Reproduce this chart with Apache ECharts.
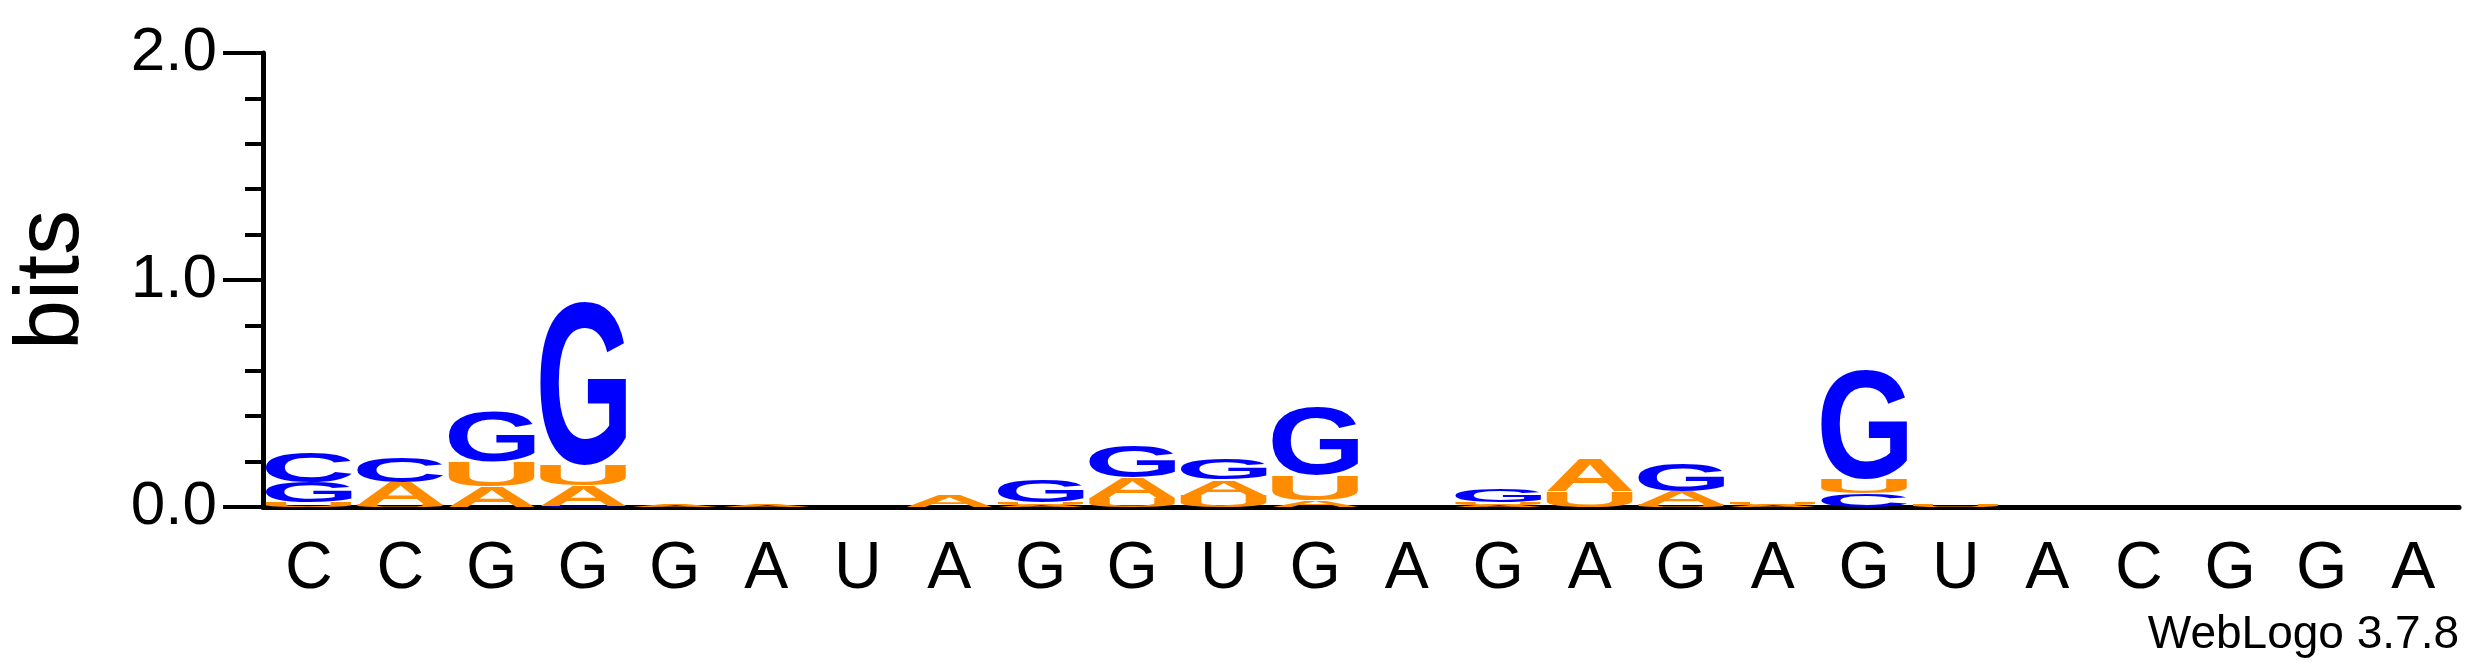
<!DOCTYPE html>
<html>
<head>
<meta charset="utf-8">
<script src="https://cdn.jsdelivr.net/npm/echarts@6/dist/echarts.min.js"></script>
<style>
html, body { margin: 0; padding: 0; background: #fff; }
#chart { width: 2475px; height: 667px; }
</style>
</head>
<body>
<div id="chart"></div>
<script>
// 序列位置标签
const positions = ['C','C','G','G','G','A','U','A','G','G','U','G','A','G','A','G','A','G','U','A','C','G','G','A'];
// 每个位置各碱基的信息量(bits)
const bitsA = [0.00,0.10,0.09,0.09,0.01,0.01,0.00,0.05,0.01,0.09,0.07,0.03,0.00,0.01,0.14,0.06,0.01,0.00,0.00,0.00,0.00,0.00,0.00,0.00];
const bitsC = [0.13,0.11,0.00,0.005,0.00,0.00,0.00,0.00,0.00,0.00,0.00,0.00,0.00,0.00,0.00,0.00,0.00,0.06,0.00,0.00,0.00,0.00,0.00,0.00];
const bitsG = [0.09,0.00,0.22,0.72,0.00,0.00,0.00,0.00,0.10,0.14,0.09,0.30,0.00,0.06,0.00,0.12,0.00,0.48,0.00,0.00,0.00,0.00,0.00,0.00];
const bitsU = [0.02,0.01,0.11,0.09,0.00,0.00,0.00,0.00,0.01,0.04,0.05,0.11,0.00,0.01,0.07,0.01,0.01,0.06,0.01,0.00,0.00,0.00,0.00,0.00];
const yTickLabels = ['0.0', '1.0', '2.0'];

const letters = ['A', 'C', 'G', 'U'];
const letterColor = { A: '#ff8c00', U: '#ff8c00', C: '#0000ff', G: '#0000ff' };
const FONT = 'bold 200px "Liberation Sans", Arial, sans-serif';

// 测量字形边界
const ctx = document.createElement('canvas').getContext('2d');
ctx.font = FONT;
ctx.textBaseline = 'middle';
ctx.textAlign = 'center';
const metrics = {};
letters.forEach(l => {
	const m = ctx.measureText(l);
	metrics[l] = {
		asc: m.actualBoundingBoxAscent, desc: m.actualBoundingBoxDescent,
		left: m.actualBoundingBoxLeft, right: m.actualBoundingBoxRight
	};
});

// 堆叠数据: [位置, 字母序号, 下沿, 上沿]
const stackData = [];
positions.forEach((p, i) => {
	const col = [['A', bitsA[i]], ['C', bitsC[i]], ['G', bitsG[i]], ['U', bitsU[i]]]
		.filter(d => d[1] > 0)
		.sort((a, b) => a[1] - b[1]);
	let base = 0;
	col.forEach(d => {
		stackData.push([i, letters.indexOf(d[0]), base, base + d[1]]);
		base += d[1];
	});
});

const chart = echarts.init(document.getElementById('chart'));
const labelFont = '"Liberation Sans Narrow", "Liberation Sans", Arial, sans-serif';
const option = {
	animation: false,
	grid: { left: 263, right: 16, top: 53, bottom: 160, containLabel: false },
	xAxis: {
		type: 'category',
		data: positions,
		boundaryGap: true,
		axisLine: { lineStyle: { color: '#000', width: 5 } },
		axisTick: { alignWithLabel: true, length: 24, inside: false, lineStyle: { color: '#000', width: 4 } },
		axisLabel: { color: '#000', fontSize: 66, fontFamily: labelFont, margin: 30 }
	},
	yAxis: [{
		type: 'value', min: 0, max: 2, interval: 1,
		axisLine: { show: true, lineStyle: { color: '#000', width: 5 } },
		axisTick: { show: true, length: 40, lineStyle: { color: '#000', width: 4 } },
		axisLabel: { color: '#000', fontSize: 62, fontFamily: labelFont, margin: 46,
			formatter: v => yTickLabels[Math.round(v)] },
		splitLine: { show: false },
		name: 'bits', nameLocation: 'middle', nameGap: 165, nameRotate: 90,
		nameTextStyle: { color: '#000', fontSize: 90, fontFamily: '"Liberation Sans", Arial, sans-serif' }
	}, {
		type: 'value', min: 0, max: 2, interval: 0.2, position: 'left',
		axisLine: { show: false },
		axisTick: { show: true, length: 18, lineStyle: { color: '#000', width: 4 } },
		axisLabel: { show: false },
		splitLine: { show: false }
	}],
	graphic: [{
		type: 'text', right: 16, top: 612,
		style: { text: 'WebLogo 3.7.8', fontSize: 46, fontFamily: labelFont, fill: '#000' }
	}],
	series: [{
		type: 'custom',
		data: stackData,
		renderItem: (params, api) => {
			const i = api.value(0);
			const l = letters[api.value(1)];
			const p0 = api.coord([i, api.value(2)]);
			const p1 = api.coord([i, api.value(3)]);
			const h = p0[1] - p1[1];
			if (h < 1) return null;
			const w = api.size([1, 0])[0] * 0.94;
			const m = metrics[l];
			const sx = w / (m.left + m.right);
			const sy = h / (m.asc + m.desc);
			const cx = p0[0] - ((m.right - m.left) / 2) * sx;
			const cy = (p0[1] + p1[1]) / 2 - ((m.desc - m.asc) / 2) * sy;
			return {
				type: 'text', x: cx, y: cy, scaleX: sx, scaleY: sy,
				style: { text: l, x: 0, y: 0, font: FONT, fill: letterColor[l],
					align: 'center', verticalAlign: 'middle' }
			};
		}
	}]
};
chart.setOption(option);
</script>
</body>
</html>
